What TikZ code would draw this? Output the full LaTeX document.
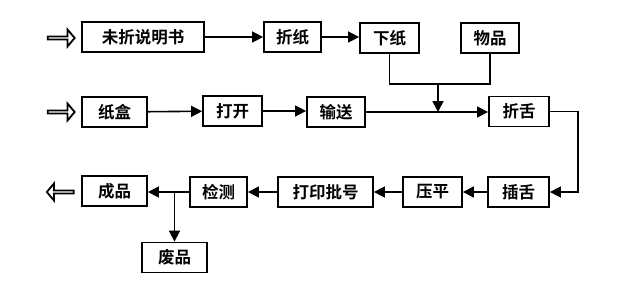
\documentclass[tikz,border=0pt]{standalone}
\usepackage{fontspec}
\newfontfamily\cjk{Noto Sans CJK SC}[BoldFont={Noto Sans CJK SC Bold}]
\usetikzlibrary{arrows.meta,shapes.arrows}
\begin{document}
\begin{tikzpicture}[x=1pt,y=-1pt,
  box/.style={draw,line width=1.8pt,inner sep=0pt,font=\cjk\bfseries\fontsize{16.5}{16.5}\selectfont,minimum height=30pt},
  flow/.style={line width=1.6pt,-{Triangle[length=11pt,width=11pt]}},
  link/.style={line width=1.6pt},
  hollow/.style={draw,line width=1.8pt,single arrow,single arrow head extend=4pt,minimum height=27pt,minimum width=17pt,inner sep=0pt,single arrow tip angle=100}]
\useasboundingbox (0,0) rectangle (640,290);
% row 1
\node[hollow] (in1) at (60.5,38) {};
\node[box,minimum width=122pt] (a1) at (143,37) {未折说明书};
\node[box,minimum width=57pt] (a2) at (292.5,37) {折纸};
\node[box,minimum width=59pt] (a3) at (389.5,38) {下纸};
\node[box,minimum width=58pt] (a4) at (490,38) {物品};
% row 2
\node[hollow] (in2) at (60.5,112) {};
\node[box,minimum width=65pt] (b1) at (114.5,112) {纸盒};
\node[box,minimum width=59pt] (b2) at (232.5,111) {打开};
\node[box,minimum width=58pt] (b3) at (336,112) {输送};
\node[box,minimum width=60pt] (b4) at (519,111.5) {折舌};
% row 3
\node[box,minimum width=61pt] (c1) at (518.5,192) {插舌};
\node[box,minimum width=59pt] (c2) at (432.5,192) {压平};
\node[box,minimum width=95pt] (c3) at (325.5,192) {打印批号};
\node[box,minimum width=57pt] (c4) at (218.5,192) {检测};
\node[box,minimum width=65pt] (c5) at (114.5,191) {成品};
\node[box,minimum width=65pt] (d) at (174.5,257.5) {废品};
\node[hollow,shape border rotate=180] (out) at (61,192) {};
% junction coordinates
\coordinate (j1) at (438,84);
\coordinate (j2) at (438,112);
\coordinate (r1) at (578,111.5);
\coordinate (r2) at (578,192);
\coordinate (k) at (174.5,192);
% connectors
\draw[flow] (a1) -- (a2);
\draw[flow] (a2.east) -- (a3.west |- a2.east);
\draw[link] (a3.south) |- (j1) -| (a4.south);
\draw[flow] (j1) -- (j2);
\draw[flow] (b1) -- (b2);
\draw[flow] (b2.east) -- (b3.west |- b2.east);
\draw[flow] (b3.east) -- (b4.west |- b3.east);
\draw[flow] (b4.east) -- (r1) -- (r2) -- (c1.east);
\draw[flow] (c1) -- (c2);
\draw[flow] (c2) -- (c3);
\draw[flow] (c3) -- (c4);
\draw[flow] (c4.west) -- (c5.east |- c4.west);
\draw[flow] (k) -- (d);
\end{tikzpicture}
\end{document}
